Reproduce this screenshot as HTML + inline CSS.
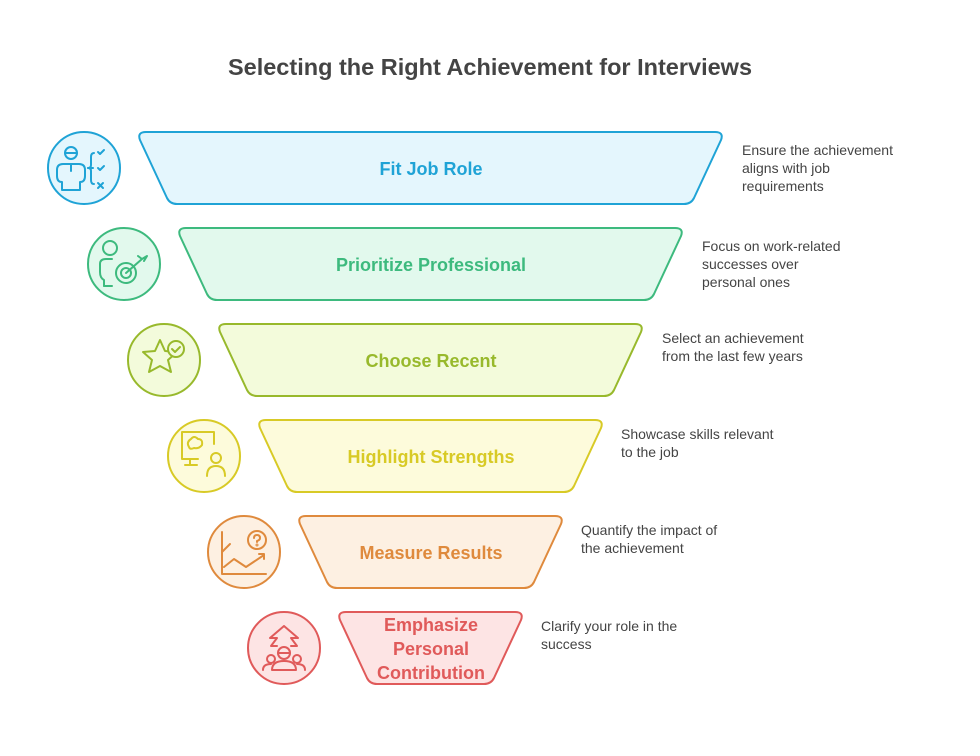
<!DOCTYPE html>
<html><head><meta charset="utf-8"><style>
html,body{margin:0;padding:0;background:#fff;width:980px;height:756px;overflow:hidden}
svg text{font-family:"Liberation Sans",Arial,sans-serif}
</style></head><body>
<svg width="980" height="756" viewBox="0 0 980 756" xmlns="http://www.w3.org/2000/svg">
<text x="490" y="75" text-anchor="middle" font-size="23.5" font-weight="bold" fill="#444">Selecting the Right Achievement for Interviews</text>

<g stroke="#1fa3d6" stroke-width="2" stroke-linejoin="round" stroke-linecap="round" fill="none">
<path d="M146,132 L715,132 Q724,132 721,140 L694,198 Q691,204 684,204 L177,204 Q170,204 167,198 L140,140 Q137,132 146,132 Z" fill="#e4f6fd"/>
<circle cx="84" cy="168" r="36" fill="#e4f6fd"/>
<circle cx="71" cy="153" r="6"/><path d="M65,153h12"/>
<path d="M62,190v-8q-5,0-5-6v-6q0-6,6-6h16q6,0,6,6v6q0,6-5,6v8z"/><path d="M71,165v6"/>
<path d="M94,153q-3,0-3,4v8q0,3-3,3q3,0,3,3v9q0,4,3,4"/><path d="M88,168h5"/>
<path d="M98,152l2,2 4-4M98,168l2,2 4-4M98,183l5,5M103,183l-5,5"/>
</g>
<text x="431" y="175" text-anchor="middle" font-size="18" font-weight="bold" fill="#1fa3d6">Fit Job Role</text>
<text font-size="14" fill="#444"><tspan x="742" y="155">Ensure the achievement</tspan><tspan x="742" y="173">aligns with job</tspan><tspan x="742" y="191">requirements</tspan></text>

<g stroke="#3dba7e" stroke-width="2" stroke-linejoin="round" stroke-linecap="round" fill="none">
<path d="M186,228 L675,228 Q684,228 681,236 L654,294 Q651,300 644,300 L217,300 Q210,300 207,294 L180,236 Q177,228 186,228 Z" fill="#e2f9ed"/>
<circle cx="124" cy="264" r="36" fill="#e2f9ed"/>
<circle cx="110" cy="248" r="7"/>
<path d="M104,286v-6q-4-2-4-8v-8q0-5,6-5h6"/><path d="M104,286h8"/>
<circle cx="126" cy="273" r="10"/><circle cx="126" cy="273" r="5"/>
<path d="M126,273l16-14M138,256l4,3 5-3-3,5"/>
</g>
<text x="431" y="271" text-anchor="middle" font-size="18" font-weight="bold" fill="#3dba7e">Prioritize Professional</text>
<text font-size="14" fill="#444"><tspan x="702" y="251">Focus on work-related</tspan><tspan x="702" y="269">successes over</tspan><tspan x="702" y="287">personal ones</tspan></text>

<g stroke="#98b92c" stroke-width="2" stroke-linejoin="round" stroke-linecap="round" fill="none">
<path d="M226,324 L635,324 Q644,324 641,332 L614,390 Q611,396 604,396 L257,396 Q250,396 247,390 L220,332 Q217,324 226,324 Z" fill="#f3fbdb"/>
<circle cx="164" cy="360" r="36" fill="#f3fbdb"/>
<path d="M160,340l5,11 12,1-9,8 3,12-11-6-11,6 3-12-9-8 12-1z"/>
<circle cx="176" cy="349" r="8" fill="#f3fbdb"/><path d="M172,349l3,3 5-5"/>
</g>
<text x="431" y="367" text-anchor="middle" font-size="18" font-weight="bold" fill="#98b92c">Choose Recent</text>
<text font-size="14" fill="#444"><tspan x="662" y="343">Select an achievement</tspan><tspan x="662" y="361">from the last few years</tspan></text>

<g stroke="#d8ca26" stroke-width="2" stroke-linejoin="round" stroke-linecap="round" fill="none">
<path d="M266,420 L595,420 Q604,420 601,428 L574,486 Q571,492 564,492 L297,492 Q290,492 287,486 L260,428 Q257,420 266,420 Z" fill="#fdfbdb"/>
<circle cx="204" cy="456" r="36" fill="#fdfbdb"/>
<path d="M214,444v-12h-32v27h16"/><path d="M190,459v6M185,465h12"/>
<path d="M189,447q-3-5,2-8q3-4,7,0q5,0,4,6q-3,4-8,3q-4,2-5-1z"/>
<circle cx="216" cy="458" r="5"/><path d="M207,476q0-10,9-10q9,0,9,10"/>
</g>
<text x="431" y="463" text-anchor="middle" font-size="18" font-weight="bold" fill="#d8ca26">Highlight Strengths</text>
<text font-size="14" fill="#444"><tspan x="621" y="439">Showcase skills relevant</tspan><tspan x="621" y="457">to the job</tspan></text>

<g stroke="#df8a3d" stroke-width="2" stroke-linejoin="round" stroke-linecap="round" fill="none">
<path d="M306,516 L555,516 Q564,516 561,524 L534,582 Q531,588 524,588 L337,588 Q330,588 327,582 L300,524 Q297,516 306,516 Z" fill="#fdf0e2"/>
<circle cx="244" cy="552" r="36" fill="#fdf0e2"/>
<path d="M222,532v42h44"/><path d="M222,552l8-8"/>
<path d="M224,567l10-8 12,8 18-12M259,554h5v5"/>
<circle cx="257" cy="540" r="9"/><path d="M254,538q0-3,3-3q3,0,3,3q0,2-3,3v1"/><circle cx="257" cy="545" r="0.5"/>
</g>
<text x="431" y="559" text-anchor="middle" font-size="18" font-weight="bold" fill="#df8a3d">Measure Results</text>
<text font-size="14" fill="#444"><tspan x="581" y="535">Quantify the impact of</tspan><tspan x="581" y="553">the achievement</tspan></text>

<g stroke="#e05a5a" stroke-width="2" stroke-linejoin="round" stroke-linecap="round" fill="none">
<path d="M346,612 L515,612 Q524,612 521,620 L494,678 Q491,684 484,684 L377,684 Q370,684 367,678 L340,620 Q337,612 346,612 Z" fill="#fde4e4"/>
<circle cx="284" cy="648" r="36" fill="#fde4e4"/>
<path d="M284,626l-14,12h7l-6,8h6M284,626l14,12h-7l6,8h-6"/>
<circle cx="284" cy="653" r="6"/><path d="M278,653h12"/>
<path d="M272,670q0-9,12-9q12,0,12,9z"/>
<circle cx="271" cy="659" r="4"/><path d="M263,670q0-6,8-6"/>
<circle cx="297" cy="659" r="4"/><path d="M305,670q0-6-8-6"/>
</g>
<text font-size="18" font-weight="bold" fill="#e05a5a" text-anchor="middle"><tspan x="431" y="631">Emphasize</tspan><tspan x="431" y="655">Personal</tspan><tspan x="431" y="679">Contribution</tspan></text>
<text font-size="14" fill="#444"><tspan x="541" y="631">Clarify your role in the</tspan><tspan x="541" y="649">success</tspan></text>
</svg>
</body></html>
